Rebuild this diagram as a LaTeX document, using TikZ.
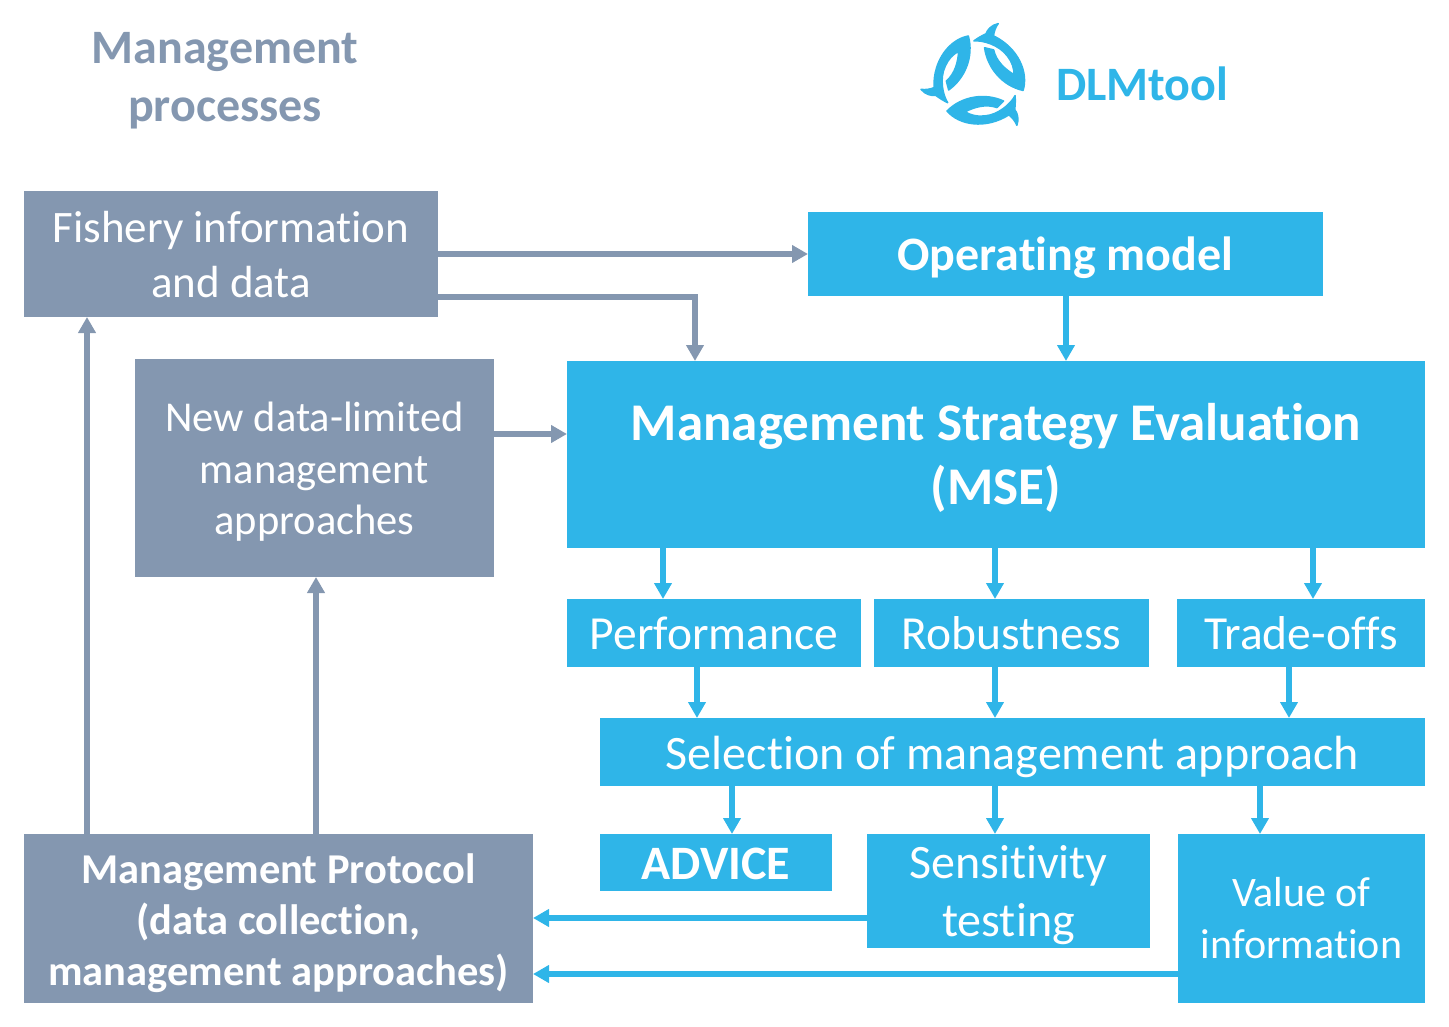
\documentclass[tikz,border=0pt]{standalone}
\usepackage{fontspec}
\setmainfont[Ligatures=NoCommon]{Carlito}
\usetikzlibrary{arrows.meta,calc}
\definecolor{bl}{HTML}{2FB5E8}
\definecolor{gr}{HTML}{8497B0}
\tikzset{
  boxbase/.style={inner sep=0pt,outer sep=0pt,text=white},
  bluebox/.style={boxbase,fill=bl},
  greybox/.style={boxbase,fill=gr},
  conn/.style={line width=6pt,-{Triangle[length=16pt,width=17pt]}},
  gconn/.style={conn,draw=gr},
  bconn/.style={conn,draw=bl},
  title/.style={inner sep=0pt,align=center},
  fishshape/.style={draw=bl,fill=bl,line width=1.5pt,line join=round}
}
% name, style+font, x1,y1,x2,y2, text
\newcommand{\bx}[7]{\path let \n1={#3},\n2={#4},\n3={#5},\n4={#6} in
  node[#2,minimum width={(\n3-\n1)*1pt},minimum height={(\n4-\n2)*1pt},anchor=north west] (#1) at (\n1,\n2) {#7};}
\newcommand{\fs}[2]{\fontsize{#1}{#2}\selectfont}
% lines of text, lowered by #1 pt from the centre of their box, taking no height
\newcommand{\dn}[2]{\vbox to 0pt{\vss\kern\dimexpr 2pt*\numexpr#1*10\relax/10\relax\hbox{\begin{tabular}{@{}c@{}}#2\end{tabular}}\vss}}
\begin{document}
\begin{tikzpicture}[x=1pt,y=-1pt]
\useasboundingbox (0,0) rectangle (1449,1027);
\bx{fish}{greybox,font=\fs{45}{55}}{24}{191}{438}{317}{\dn{5}{Fishery information\\and data}}
\bx{op}{bluebox,font=\fs{48}{50}\bfseries}{808}{212}{1323}{296}{\dn{7}{Operating model}}
\bx{new}{greybox,font=\fs{42.5}{51.5}}{135}{359}{494}{577}{\dn{5}{New data-limited\\management\\approaches}}
\bx{mse}{bluebox,font=\fs{53}{64}\bfseries}{567}{361}{1425}{548}{\dn{5}{Management Strategy Evaluation\\(MSE)}}
\bx{perf}{bluebox,font=\fs{47.5}{50}}{567}{599}{861}{667}{\dn{6}{Performance}}
\bx{rob}{bluebox,font=\fs{47.5}{50}}{874}{599}{1149}{667}{\dn{6}{Robustness}}
\bx{trade}{bluebox,font=\fs{47.5}{50}}{1177}{599}{1425}{667}{\dn{6}{Trade-offs}}
\bx{sel}{bluebox,font=\fs{48}{50}}{600}{718}{1425}{786}{\dn{7}{Selection of management approach}}
\bx{adv}{bluebox,font=\fs{48}{50}\bfseries}{600}{834}{832}{891}{\dn{7}{ADVICE}}
\bx{sens}{bluebox,font=\fs{48}{58}}{867}{834}{1150}{948}{\dn{5}{Sensitivity\\testing}}
\bx{val}{bluebox,font=\fs{42}{52}}{1178}{834}{1425}{1003}{\dn{4}{Value of\\information}}
\bx{prot}{greybox,font=\fs{42.5}{51}\bfseries}{24}{834}{533}{1003}{\dn{6}{Management Protocol\\(data collection,\\management approaches)}}
\node[title,text=gr,font=\fs{48}{58}\bfseries] (mp) at (225,81) {Management\\processes};
\node[title,text=bl,font=\fs{48}{50}\bfseries,anchor=west] (dlm) at (1056,84) {DLMtool};
% connectors
\draw[gconn] ([yshift=-63pt]fish.north east) -- ([yshift=-42pt]op.north west);
\draw[gconn] ([yshift=-106pt]fish.north east) -| ([xshift=128pt]mse.north west);
\draw[gconn] ([yshift=-75pt]new.north east) -- ([yshift=-73pt]mse.north west);
\draw[bconn] ([xshift=258pt]op.south west) -- ([xshift=499pt]mse.north west);
\draw[bconn] ([xshift=96pt]mse.south west) -- ([xshift=96pt]perf.north west);
\draw[bconn] ([xshift=428pt]mse.south west) -- ([xshift=121pt]rob.north west);
\draw[bconn] ([xshift=746pt]mse.south west) -- ([xshift=136pt]trade.north west);
\draw[bconn] ([xshift=130pt]perf.south west) -- ([xshift=97pt]sel.north west);
\draw[bconn] ([xshift=121pt]rob.south west) -- ([xshift=395pt]sel.north west);
\draw[bconn] ([xshift=112pt]trade.south west) -- ([xshift=689pt]sel.north west);
\draw[bconn] ([xshift=132pt]sel.south west) -- ([xshift=132pt]adv.north west);
\draw[bconn] ([xshift=395pt]sel.south west) -- ([xshift=128pt]sens.north west);
\draw[bconn] ([xshift=660pt]sel.south west) -- ([xshift=82pt]val.north west);
\draw[bconn] ([yshift=-84pt]sens.north west) -- ([yshift=-84pt]prot.north east);
\draw[bconn] ([yshift=-140pt]val.north west) -- ([yshift=-140pt]prot.north east);
\draw[gconn] ([xshift=63pt]prot.north west) -- ([xshift=63pt]fish.south west);
\draw[gconn] ([xshift=292pt]prot.north west) -- ([xshift=181pt]new.south west);
% logo
\begin{scope}[shift={(900,10)},x=0.3333pt,y=-0.3333pt]
\foreach \a in {0,-118,-240}{
\begin{scope}[rotate around={\a:(238,209)}]
\draw[fishshape] (205,78) .. controls (150,88) and (99,150) .. (102,233)
  .. controls (90,238) and (76,240) .. (63,238)
  .. controls (76,254) and (95,258) .. (107,256)
  .. controls (118,264) and (130,272) .. (143,278)
  .. controls (128,255) and (118,205) .. (136,168)
  .. controls (145,147) and (160,132) .. (176,124)
  .. controls (174,155) and (166,190) .. (139,213)
  -- (146,240)
  .. controls (195,205) and (222,140) .. (205,78) -- cycle;
\end{scope}}
\end{scope}
\end{tikzpicture}
\end{document}
